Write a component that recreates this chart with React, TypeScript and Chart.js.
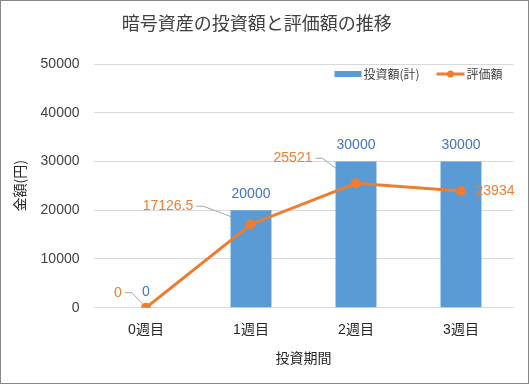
import { useEffect, useRef } from "react";
import { Chart, registerables } from "chart.js";

Chart.register(...registerables);

const categories = ["0週目", "1週目", "2週目", "3週目"];
const investment = [0, 20000, 30000, 30000];
const valuation = [0, 17126.5, 25521, 23934];
const seriesNames = ["投資額(計)", "評価額"];
const yMin = 0;
const yMax = 50000;
const yStep = 10000;

const BAR_COLOR = "#5B9BD5";
const LINE_COLOR = "#ED7D31";
const BAR_LABEL_COLOR = "#4472C4";
const FONT = "'Liberation Sans', 'Noto Sans CJK JP', sans-serif";
const CJK = "'Noto Sans CJK JP', 'Liberation Sans', sans-serif";

// label placement (style only) for the line series labels
const lineLabelOffsets = [
  { dx: -28, dy: -15, leader: true },
  { dx: -83, dy: -18, leader: true },
  { dx: -63, dy: -25, leader: true },
  { dx: 34, dy: 0, leader: false },
];

const fmt = (v: number) => String(v);

const labelsPlugin = {
  id: "customLabels",
  beforeDatasetsDraw(chart: any) {
    const ctx = chart.ctx;
    const meta = chart.getDatasetMeta(1);
    ctx.save();
    ctx.font = `14px ${FONT}`;
    ctx.strokeStyle = "#A6A6A6";
    ctx.lineWidth = 1;
    meta.data.forEach((pt: any, i: number) => {
      const o = lineLabelOffsets[i];
      if (!o || !o.leader) return;
      const txt = fmt(valuation[i]);
      const w = ctx.measureText(txt).width;
      const lx = pt.x + o.dx + w / 2 + 3;
      const ly = pt.y + o.dy;
      ctx.beginPath();
      ctx.moveTo(lx, ly);
      ctx.lineTo(lx + 7, ly);
      ctx.lineTo(pt.x, pt.y);
      ctx.stroke();
    });
    ctx.restore();
  },
  afterDatasetsDraw(chart: any) {
    const ctx = chart.ctx;
    ctx.save();
    ctx.font = `14px ${FONT}`;
    ctx.textAlign = "center";
    ctx.textBaseline = "middle";
    const barMeta = chart.getDatasetMeta(0);
    ctx.fillStyle = BAR_LABEL_COLOR;
    barMeta.data.forEach((bar: any, i: number) => {
      ctx.fillText(fmt(investment[i]), bar.x, bar.y - 16);
    });
    const lineMeta = chart.getDatasetMeta(1);
    ctx.fillStyle = LINE_COLOR;
    lineMeta.data.forEach((pt: any, i: number) => {
      const o = lineLabelOffsets[i];
      ctx.fillText(fmt(valuation[i]), pt.x + o.dx, pt.y + o.dy);
    });
    ctx.restore();
  },
  afterDraw(chart: any) {
    const ctx = chart.ctx;
    const area = chart.chartArea;
    ctx.save();
    // legend
    const x0 = area.right - 179;
    const yc = area.top + 10;
    ctx.fillStyle = BAR_COLOR;
    ctx.fillRect(x0, yc - 3, 27, 6);
    ctx.font = `12px ${CJK}`;
    ctx.textBaseline = "middle";
    ctx.textAlign = "left";
    ctx.fillStyle = "#404040";
    ctx.fillText(seriesNames[0], x0 + 29, yc);
    const lx = x0 + 102;
    ctx.strokeStyle = LINE_COLOR;
    ctx.lineWidth = 3;
    ctx.beginPath();
    ctx.moveTo(lx, yc);
    ctx.lineTo(lx + 28, yc);
    ctx.stroke();
    ctx.fillStyle = LINE_COLOR;
    ctx.beginPath();
    ctx.arc(lx + 14, yc, 3.5, 0, Math.PI * 2);
    ctx.fill();
    ctx.fillStyle = "#404040";
    ctx.fillText(seriesNames[1], lx + 30, yc);
    // outer border
    ctx.strokeStyle = "#868686";
    ctx.lineWidth = 1;
    ctx.strokeRect(0.5, 0.5, chart.width - 1, chart.height - 1);
    ctx.restore();
  },
};

export default function App() {
  const ref = useRef<HTMLCanvasElement | null>(null);
  useEffect(() => {
    if (!ref.current) return;
    const chart = new Chart(ref.current, {
      type: "bar",
      data: {
        labels: categories,
        datasets: [
          {
            type: "bar",
            label: seriesNames[0],
            data: investment,
            backgroundColor: BAR_COLOR,
            categoryPercentage: 1,
            barPercentage: 0.39,
            order: 2,
          },
          {
            type: "line",
            label: seriesNames[1],
            data: valuation,
            borderColor: LINE_COLOR,
            backgroundColor: LINE_COLOR,
            borderWidth: 3,
            pointRadius: 5,
            pointBorderWidth: 0,
            pointBackgroundColor: LINE_COLOR,
            tension: 0,
            order: 1,
          },
        ],
      } as any,
      options: {
        animation: false,
        responsive: false,
        maintainAspectRatio: false,
        layout: { padding: { top: 0, left: 0, right: 15.5, bottom: 0 } },
        plugins: {
          legend: { display: false },
          tooltip: { enabled: false },
          title: {
            display: true,
            text: "暗号資産の投資額と評価額の推移",
            color: "#404040",
            font: { family: CJK, size: 18, weight: "normal" },
            padding: { top: 12.7, bottom: 29.7 },
          },
        },
        scales: {
          x: {
            grid: { display: false, drawTicks: false },
            border: { display: false },
            ticks: {
              color: "#262626",
              font: { family: FONT, size: 14 },
              padding: 14,
            },
            title: {
              display: true,
              text: "投資期間",
              color: "#262626",
              font: { family: CJK, size: 14 },
              padding: { top: 0, bottom: 17.6 },
            },
            afterFit: (s: any) => {
              s.height = 76.3;
            },
          },
          y: {
            min: yMin,
            max: yMax,
            ticks: {
              stepSize: yStep,
              color: "#404040",
              font: { family: FONT, size: 14 },
              padding: 14,
              callback: (v: any) => String(v),
            },
            grid: { color: "#D9D9D9", drawTicks: false },
            border: { display: false },
            title: {
              display: true,
              text: "金額(円)",
              color: "#262626",
              font: { family: CJK, size: 14 },
              padding: { top: 11.6, bottom: 0 },
            },
            afterFit: (s: any) => {
              s.width = 93.5;
            },
          },
        },
      } as any,
      plugins: [labelsPlugin],
    });
    return () => chart.destroy();
  }, []);
  return (
    <div style={{ position: "fixed", left: 0, top: 0, width: 529, height: 384, background: "#fff" }}>
      <canvas ref={ref} width={529} height={384} style={{ width: 529, height: 384, display: "block" }} />
    </div>
  );
}
